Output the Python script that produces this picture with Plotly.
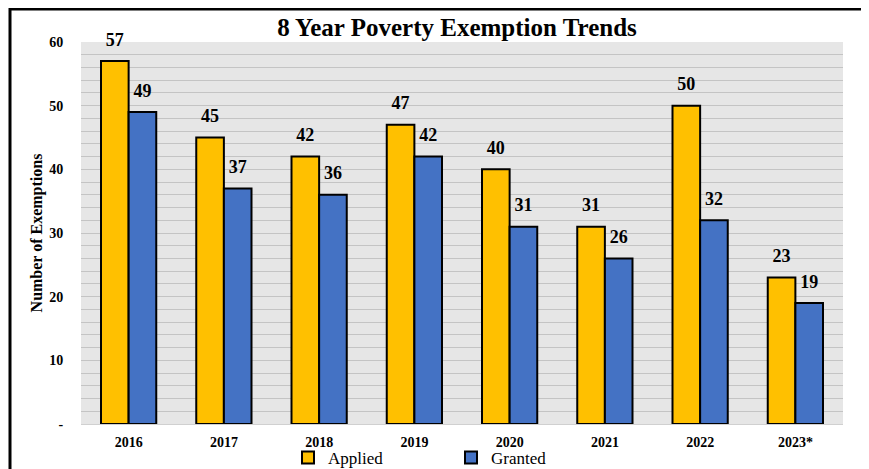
import plotly.graph_objects as go

years = ["2016", "2017", "2018", "2019", "2020", "2021", "2022", "2023*"]
applied = [57, 45, 42, 47, 40, 31, 50, 23]
granted = [49, 37, 36, 42, 31, 26, 32, 19]
ytick_vals = [0, 10, 20, 30, 40, 50, 60]
ytick_text = ["-", "10", "20", "30", "40", "50", "60"]

FONT = "Liberation Serif"
W, H = 869, 469
OFF = 8  # page body margin offset

label_tpl = "<span style='font-size:18px'>%{y}</span><br> "

fig = go.Figure()
fig.add_trace(go.Bar(
    x=years, y=applied, name="Applied",
    marker=dict(color="#FFC000", line=dict(color="black", width=2)),
    texttemplate=label_tpl, textposition="outside", cliponaxis=False,
    textfont=dict(family=FONT, size=8, color="black", weight="bold"),
))
fig.add_trace(go.Bar(
    x=years, y=granted, name="Granted",
    marker=dict(color="#4472C4", line=dict(color="black", width=2)),
    texttemplate=label_tpl, textposition="outside", cliponaxis=False,
    textfont=dict(family=FONT, size=8, color="black", weight="bold"),
))

fig.update_layout(
    width=W, height=H,
    margin=dict(l=81 - OFF, r=26 + OFF, t=42 - OFF, b=45 + OFF, autoexpand=False),
    paper_bgcolor="white",
    plot_bgcolor="#e6e6e6",
    barmode="group",
    bargap=0.42,
    bargroupgap=0,
    showlegend=True,
    uniformtext=dict(mode=False),
    title=dict(text="<b>8 Year Poverty Exemption Trends</b>", x=(457 - OFF) / W, xanchor="center",
               y=1 - (27 - OFF) / H, yanchor="middle", yref="container",
               font=dict(family=FONT, size=25, color="black")),
    legend=dict(orientation="h", x=(288 - OFF) / W, xanchor="left", y=1 - (458 - OFF) / H,
                yanchor="middle", yref="container", xref="container",
                font=dict(family=FONT, size=17, color="black"),
                entrywidth=118, itemwidth=30, bgcolor="rgba(0,0,0,0)"),
    font=dict(family=FONT, color="black"),
    xaxis=dict(showgrid=False, automargin=False,
               tickfont=dict(family=FONT, size=14, color="black", weight="bold"),
               ticks="outside", ticklen=5, tickcolor="rgba(0,0,0,0)",
               showline=True, linecolor="#d0d0d0", linewidth=1),
    yaxis=dict(range=[0, 60], tickvals=ytick_vals, ticktext=ytick_text, automargin=False,
               tickfont=dict(family=FONT, size=14, color="black", weight="bold"),
               ticks="outside", ticklen=14, tickcolor="rgba(0,0,0,0)",
               showgrid=True, gridcolor="#c4c4c4", gridwidth=1,
               minor=dict(dtick=2, showgrid=True, gridcolor="#c4c4c4", gridwidth=1),
               zeroline=False,
               title=dict(text="<b>Number of Exemptions</b>", standoff=2,
                          font=dict(family=FONT, size=16, color="black"))),
    shapes=[dict(type="rect", xref="paper", yref="paper",
                 x0=(10 - 81) / 762, x1=1.2, y0=-0.3, y1=1 + (42 - 9) / 382,
                 line=dict(color="black", width=3), fillcolor="rgba(0,0,0,0)", layer="above")],
)

fig.write_html("out.html")
